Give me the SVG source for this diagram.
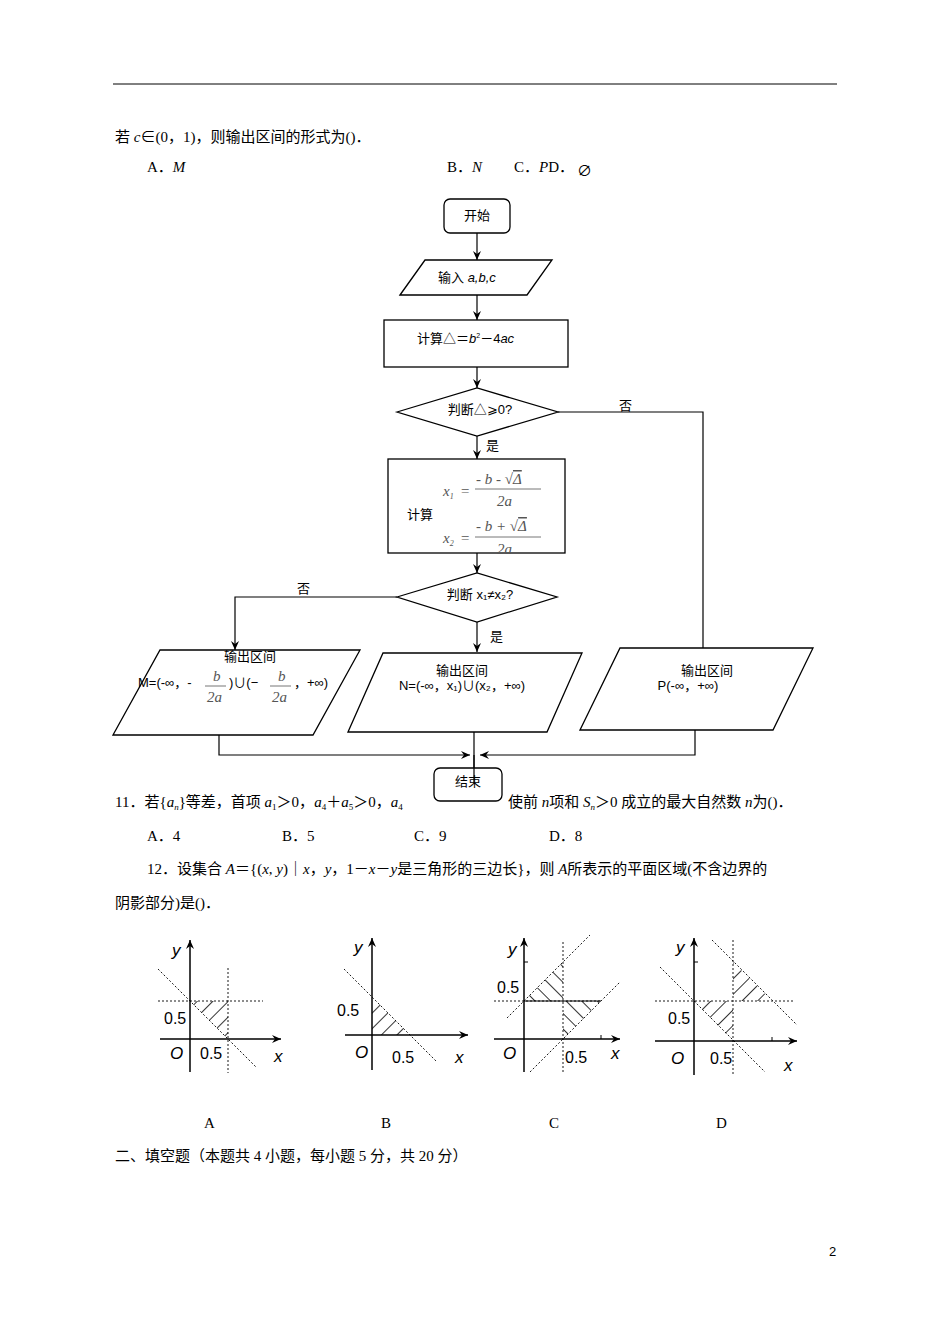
<svg xmlns="http://www.w3.org/2000/svg" width="950" height="1344" viewBox="0 0 950 1344">
<style>
.t{font-family:"Liberation Serif","Noto Sans CJK SC",serif;font-size:15px;fill:#000}
.s{font-family:"Liberation Sans","Noto Sans CJK SC",sans-serif;font-size:13px;fill:#000}
.g{font-family:"Liberation Serif",serif;font-size:15px;fill:#555;font-style:italic}
.m{font-family:"Liberation Sans",sans-serif;font-size:16px;fill:#000}
.mi{font-family:"Liberation Sans",sans-serif;font-size:17px;font-style:italic;fill:#000}
.b{fill:#fff;stroke:#000;stroke-width:1.3}
.c{fill:none;stroke:#000;stroke-width:1.2}
.d{fill:none;stroke:#000;stroke-width:0.9;stroke-dasharray:2,2}
.ax{fill:none;stroke:#000;stroke-width:1.5}
</style>
<defs>
<marker id="ar" markerWidth="10" markerHeight="10" refX="9" refY="5" orient="auto" markerUnits="userSpaceOnUse"><path d="M0,1 L9,5 L0,9 L3,5 Z" fill="#000"/></marker>
<pattern id="h1" width="11" height="11" patternUnits="userSpaceOnUse" patternTransform="rotate(45)"><line x1="0" y1="0" x2="0" y2="11" stroke="#000" stroke-width="1.6"/></pattern>
<pattern id="h2" width="11" height="11" patternUnits="userSpaceOnUse" patternTransform="rotate(-45)"><line x1="0" y1="0" x2="0" y2="11" stroke="#000" stroke-width="1.6"/></pattern>
</defs>
<rect width="950" height="1344" fill="#fff"/>
<line x1="113" y1="84" x2="837" y2="84" stroke="#000" stroke-width="1"/>
<text class="t" x="115" y="142">若 <tspan font-style="italic">c</tspan>∈(0，1)，则输出区间的形式为()．</text>
<text class="t" x="147" y="172">A．<tspan font-style="italic">M</tspan></text>
<text class="t" x="447" y="172">B．<tspan font-style="italic">N</tspan></text>
<text class="t" x="514" y="172">C．<tspan font-style="italic">P</tspan>D．</text>
<text class="t" x="577" y="176" fill="#777">∅</text>

<g id="connectors">
<line class="c" x1="477" y1="233" x2="477" y2="260" marker-end="url(#ar)"/>
<line class="c" x1="477" y1="295" x2="477" y2="320" marker-end="url(#ar)"/>
<line class="c" x1="477" y1="367" x2="477" y2="388" marker-end="url(#ar)"/>
<line class="c" x1="477" y1="436" x2="477" y2="459" marker-end="url(#ar)"/>
<line class="c" x1="477" y1="553" x2="477" y2="573" marker-end="url(#ar)"/>
<line class="c" x1="477" y1="622" x2="477" y2="652" marker-end="url(#ar)"/>
<polyline class="c" points="558,412 703,412 703,648"/>
<polyline class="c" points="397,597 235,597 235,650" marker-end="url(#ar)"/>
<polyline class="c" points="219,725 219,755 470,755" marker-end="url(#ar)"/>
<polyline class="c" points="695,725 695,755 480,755" marker-end="url(#ar)"/>
<line class="c" x1="474" y1="725" x2="474" y2="775"/>
<text class="s" x="619" y="410">否</text>
<text class="s" x="486" y="450">是</text>
<text class="s" x="297" y="593">否</text>
<text class="s" x="490" y="641">是</text>
</g>
<g id="start"><rect class="b" x="444" y="199" width="66" height="34" rx="6"/><text class="s" x="477" y="220" text-anchor="middle">开始</text></g>
<g id="input"><polygon class="b" points="400,295 425,260 552,260 527,295"/><text class="s" x="438" y="282">输入 <tspan font-style="italic">a,b,c</tspan></text></g>
<g id="calc1"><rect class="b" x="384" y="320" width="184" height="47"/><text class="s" x="417" y="343">计算△＝<tspan font-style="italic">b</tspan><tspan font-size="7" dy="-5">2</tspan><tspan dy="5">－4</tspan><tspan font-style="italic">ac</tspan></text></g>
<g id="dec1"><polygon class="b" points="397,412 477,388 558,412 477,436"/><text class="s" x="480" y="414" text-anchor="middle">判断△⩾0?</text></g>
<g id="calc2"><rect class="b" x="388" y="459" width="177" height="94"/>
<text class="s" x="407" y="519" font-size="15">计算</text>
<text class="g" x="443" y="496">x<tspan font-size="8" dy="3">1</tspan></text>
<text class="g" x="460" y="496" font-style="normal">=</text>
<text class="g" x="476" y="484">- b - √<tspan text-decoration="overline">Δ</tspan></text>
<line x1="475" y1="489" x2="541" y2="489" stroke="#777"/>
<text class="g" x="497" y="506">2a</text>
<text class="g" x="443" y="543">x<tspan font-size="8" dy="3">2</tspan></text>
<text class="g" x="460" y="543" font-style="normal">=</text>
<text class="g" x="476" y="531">- b + √<tspan text-decoration="overline">Δ</tspan></text>
<line x1="475" y1="537" x2="541" y2="537" stroke="#777"/>
<text class="g" x="497" y="554">2a</text>
</g>
<g id="dec2"><polygon class="b" points="397,597 477,573 557,597 477,622"/><text class="s" x="480" y="599" text-anchor="middle">判断 x₁≠x₂?</text></g>
<g id="outM"><polygon class="b" points="113,735 160,650 360,650 313,735"/>
<text class="s" x="250" y="661" text-anchor="middle">输出区间</text>
<text class="s" x="138" y="687" font-size="10">M=(-∞，-</text>
<text class="g" x="213" y="681">b</text><line x1="205" y1="686" x2="226" y2="686" stroke="#777"/><text class="g" x="207" y="702">2a</text>
<text class="s" x="229" y="687" font-size="10">)∪(−</text>
<text class="g" x="278" y="681">b</text><line x1="270" y1="686" x2="291" y2="686" stroke="#777"/><text class="g" x="272" y="702">2a</text>
<text class="s" x="294" y="687" font-size="10">，+∞)</text>
</g>
<g id="outN"><polygon class="b" points="348,732 383,653 582,653 547,732"/>
<text class="s" x="462" y="675" text-anchor="middle">输出区间</text>
<text class="s" x="462" y="690" text-anchor="middle" font-size="12">N=(-∞，x₁)∪(x₂，+∞)</text></g>
<g id="outP"><polygon class="b" points="580,730 620,648 813,648 773,730"/>
<text class="s" x="707" y="675" text-anchor="middle">输出区间</text>
<text class="s" x="688" y="690" text-anchor="middle" font-size="12">P(-∞，+∞)</text></g>

<text class="t" x="115" y="807">11．若{<tspan font-style="italic">a</tspan><tspan font-size="9" dy="3" font-style="italic">n</tspan><tspan dy="-3">}等差，首项 </tspan><tspan font-style="italic">a</tspan><tspan font-size="9" dy="3">1</tspan><tspan dy="-3">＞0，</tspan><tspan font-style="italic">a</tspan><tspan font-size="9" dy="3">4</tspan><tspan dy="-3">＋</tspan><tspan font-style="italic">a</tspan><tspan font-size="9" dy="3">5</tspan><tspan dy="-3">＞0，</tspan><tspan font-style="italic">a</tspan><tspan font-size="9" dy="3">4</tspan></text>
<text class="t" x="508" y="807">使前 <tspan font-style="italic">n</tspan>项和 <tspan font-style="italic">S</tspan><tspan font-size="9" dy="3" font-style="italic">n</tspan><tspan dy="-3">＞0 成立的最大自然数 </tspan><tspan font-style="italic">n</tspan>为()．</text>
<g id="end"><rect class="b" x="434" y="768" width="68" height="33" rx="6"/><text class="s" x="468" y="786" text-anchor="middle">结束</text></g>
<line class="c" x1="474" y1="755" x2="474" y2="783"/>

<text class="t" x="147" y="841">A．4</text><text class="t" x="282" y="841">B．5</text><text class="t" x="414" y="841">C．9</text><text class="t" x="549" y="841">D．8</text>
<text class="t" x="147" y="874">12．设集合 <tspan font-style="italic">A</tspan>＝{(<tspan font-style="italic">x</tspan>, <tspan font-style="italic">y</tspan>)｜<tspan font-style="italic">x</tspan>，<tspan font-style="italic">y</tspan>，1－<tspan font-style="italic">x</tspan>－<tspan font-style="italic">y</tspan>是三角形的三边长}，则 <tspan font-style="italic">A</tspan>所表示的平面区域(不含边界的</text>
<text class="t" x="115" y="908">阴影部分)是()．</text>

<!-- A -->
<polygon points="190,1001 228,1001 228,1039" fill="url(#h1)"/>
<line class="d" x1="158" y1="1001" x2="263" y2="1001"/><line class="d" x1="228" y1="968" x2="228" y2="1073"/><line class="d" x1="158" y1="969" x2="256" y2="1067"/>
<line class="ax" x1="190" y1="1072" x2="190" y2="940" marker-end="url(#ar)"/><line class="ax" x1="160" y1="1039" x2="281" y2="1039" marker-end="url(#ar)"/>
<text class="mi" x="172" y="956">y</text><text class="m" x="164" y="1024">0.5</text><text class="mi" x="170" y="1059">O</text><text class="m" x="200" y="1059">0.5</text><text class="mi" x="274" y="1062">x</text>
<!-- B -->
<polygon points="372,997 372,1035 410,1035" fill="url(#h1)"/>
<line class="d" x1="344" y1="969" x2="437" y2="1062"/>
<line class="ax" x1="372" y1="1070" x2="372" y2="938" marker-end="url(#ar)"/><line class="ax" x1="345" y1="1035" x2="468" y2="1035" marker-end="url(#ar)"/>
<text class="mi" x="354" y="953">y</text><text class="m" x="337" y="1016">0.5</text><text class="mi" x="355" y="1058">O</text><text class="m" x="392" y="1063">0.5</text><text class="mi" x="455" y="1063">x</text>
<!-- C -->
<polygon points="524,1001 563,1001 563,962" fill="url(#h2)"/><polygon points="563,1001 601,1001 563,1039" fill="url(#h2)"/>
<line class="d" x1="494" y1="1001" x2="600" y2="1001"/><line class="d" x1="563" y1="942" x2="563" y2="1072"/>
<line class="d" x1="507" y1="1018" x2="590" y2="935"/><line class="d" x1="530" y1="1072" x2="620" y2="982"/>
<line x1="524" y1="1001" x2="601" y2="1001" stroke="#000" stroke-width="1.2"/>
<line class="ax" x1="524" y1="1072" x2="524" y2="938" marker-end="url(#ar)"/><line class="ax" x1="494" y1="1039" x2="620" y2="1039" marker-end="url(#ar)"/>
<line x1="524" y1="962" x2="528" y2="962" stroke="#000"/><line x1="601" y1="1035" x2="601" y2="1039" stroke="#000"/>
<text class="mi" x="508" y="955">y</text><text class="m" x="497" y="993">0.5</text><text class="mi" x="503" y="1059">O</text><text class="m" x="565" y="1063">0.5</text><text class="mi" x="611" y="1059">x</text>
<!-- D -->
<polygon points="694,1001 733,1001 733,1041" fill="url(#h1)"/><polygon points="733,962 733,1001 772,1001" fill="url(#h1)"/>
<line class="d" x1="655" y1="1001" x2="795" y2="1001"/><line class="d" x1="733" y1="940" x2="733" y2="1075"/>
<line class="d" x1="660" y1="967" x2="765" y2="1072"/><line class="d" x1="712" y1="940" x2="797" y2="1025"/>
<line class="ax" x1="694" y1="1075" x2="694" y2="938" marker-end="url(#ar)"/><line class="ax" x1="655" y1="1041" x2="797" y2="1041" marker-end="url(#ar)"/>
<line x1="694" y1="962" x2="698" y2="962" stroke="#000"/><line x1="772" y1="1037" x2="772" y2="1041" stroke="#000"/>
<text class="mi" x="676" y="953">y</text><text class="m" x="668" y="1024">0.5</text><text class="mi" x="671" y="1064">O</text><text class="m" x="710" y="1064">0.5</text><text class="mi" x="784" y="1071">x</text>

<text class="t" x="204" y="1128">A</text><text class="t" x="381" y="1128">B</text><text class="t" x="549" y="1128">C</text><text class="t" x="716" y="1128">D</text>
<text class="t" x="115" y="1161">二、填空题（本题共 4 小题，每小题 5 分，共 20 分）</text>
<text class="s" x="829" y="1256">2</text>
</svg>
